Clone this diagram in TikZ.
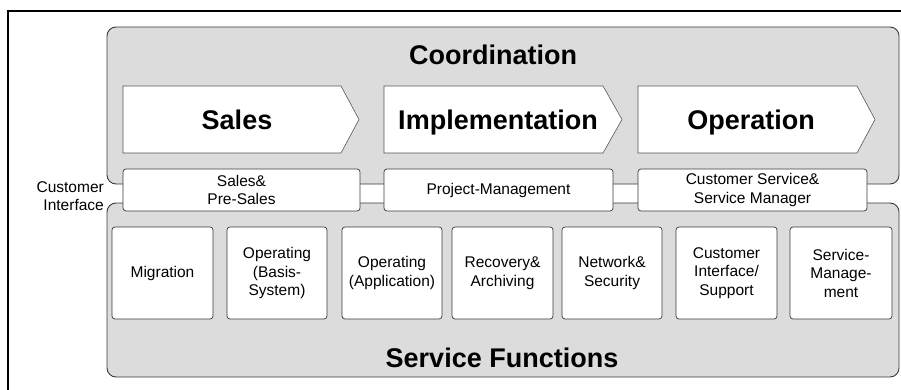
\documentclass[tikz,border=0pt]{standalone}
\usepackage{fontspec}
\setmainfont{Liberation Sans}
\definecolor{panelgray}{HTML}{DCDCDC}
\definecolor{edgegray}{HTML}{3A3A3A}
\definecolor{chevedge}{HTML}{555555}
\begin{document}
\begin{tikzpicture}[x=1pt,y=-1pt,
  panel/.style={draw=edgegray,line width=0.9pt,fill=panelgray,rounded corners=9pt,inner sep=0pt,outer sep=0pt},
  wbox/.style={draw=edgegray,line width=0.7pt,fill=white,rounded corners=3pt,inner sep=0pt,outer sep=0pt,align=center,font=\fontsize{15.5}{18.5}\selectfont},
  chev/.style={draw=chevedge,line width=0.6pt,fill=white},
  big/.style={font=\fontsize{27}{30}\selectfont\bfseries,inner sep=0pt,anchor=base},
  small/.style={font=\fontsize{15.5}{18.5}\selectfont,inner sep=0pt,align=right}]
\useasboundingbox (0,0) rectangle (901,390);
\clip (0,0) rectangle (901,390);
% outer frame
\draw[line width=1.7pt,black] (8,11) rectangle (920,410);
% panels
\node[panel,minimum width=792pt,minimum height=157pt] (coord) at (503,105.5) {};
\node[panel,minimum width=792pt,minimum height=174pt] (serv) at (503,290) {};
\node[big] (coordt) at (493,65) {Coordination};
\node[big] (servt) at (502,367) {Service Functions};
% chevrons
\draw[chev] (123,86) -- (341,86) -- (359,119.5) -- (341,153) -- (123,153) -- cycle;
\draw[chev] (384,86) -- (603,86) -- (622,119.5) -- (603,153) -- (384,153) -- cycle;
\draw[chev] (638,86) -- (857,86) -- (875,119.5) -- (857,153) -- (638,153) -- cycle;
\node[big] (sales) at (237,130) {Sales};
\node[big] (impl) at (498,130) {Implementation};
\node[big] (oper) at (751,130) {Operation};
% interface boxes
\node[wbox,minimum width=237pt,minimum height=42pt] (presales) at (241.5,190) {Sales\&\\Pre-Sales};
\node[wbox,minimum width=229pt,minimum height=42pt] (pm) at (498.5,190) {Project-Management};
\node[wbox,minimum width=229pt,minimum height=42pt] (cs) at (752.5,190) {Customer Service\&\\Service Manager};
\node[small,anchor=east] (ci) at (104,196) {Customer\\Interface};
% service function boxes
\node[wbox,minimum width=101pt,minimum height=92pt] (f1) at (162.5,273) {Migration};
\node[wbox,minimum width=100pt,minimum height=92pt] (f2) at (277,273) {Operating\\(Basis-\\System)};
\node[wbox,minimum width=100pt,minimum height=92pt] (f3) at (392,273) {Operating\\(Application)};
\node[wbox,minimum width=101pt,minimum height=92pt] (f4) at (502.5,273) {Recovery\&\\Archiving};
\node[wbox,minimum width=100pt,minimum height=92pt] (f5) at (612,273) {Network\&\\Security};
\node[wbox,minimum width=101pt,minimum height=92pt] (f6) at (726.5,273) {Customer\\Interface/\\Support};
\node[wbox,minimum width=102pt,minimum height=92pt] (f7) at (841,273) {Service-\\Manage-\\ment};
\end{tikzpicture}
\end{document}
